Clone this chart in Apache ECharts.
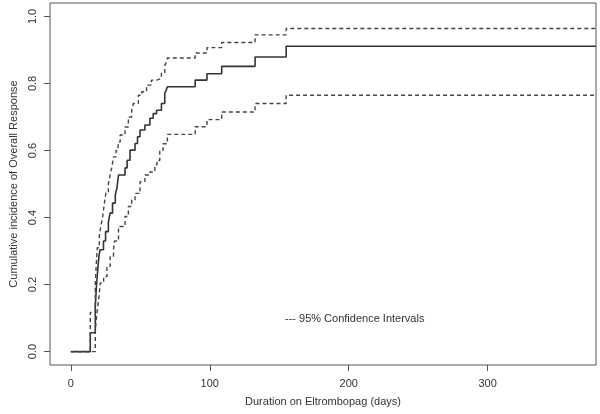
<!DOCTYPE html>
<html>
<head>
<meta charset="utf-8">
<script src="https://cdn.jsdelivr.net/npm/echarts@6/dist/echarts.min.js"></script>
<style>
html,body{margin:0;padding:0;background:#fff;}
#chart{width:600px;height:414px;}
</style>
</head>
<body>
<div id="chart"></div>
<script>
// Cumulative incidence estimate (days, value)
const estDays = [0, 14, 17.6, 18.5, 19.5, 20.2, 21, 23.5, 25, 27, 28.2, 30, 32, 33.2, 34.3, 39, 40.5, 42.6, 46.2, 48, 49.8, 53.3, 56.9, 59.3, 61.7, 65.2, 67.6, 68.6, 69.5, 89.5, 98, 108.6, 132.6, 155, 378];
const estVals = [0, 0.056, 0.135, 0.2, 0.25, 0.284, 0.304, 0.33, 0.358, 0.385, 0.413, 0.443, 0.468, 0.488, 0.527, 0.548, 0.571, 0.601, 0.621, 0.641, 0.661, 0.676, 0.696, 0.71, 0.72, 0.74, 0.77, 0.78, 0.79, 0.81, 0.829, 0.851, 0.879, 0.911, 0.911];
// Upper 95% CI
const upDays = [0, 14, 17.6, 18.3, 19, 20.5, 21.5, 22.9, 24, 25.2, 27, 28.3, 29.5, 30.7, 32.5, 34, 35.5, 39, 41.4, 43.8, 45, 48.6, 51, 54.5, 58, 61.7, 65.2, 67.6, 68.8, 69.5, 89.5, 98, 108.6, 132.6, 155, 378];
const upVals = [0, 0.117, 0.2, 0.26, 0.31, 0.343, 0.373, 0.403, 0.438, 0.473, 0.5, 0.527, 0.55, 0.581, 0.6, 0.625, 0.646, 0.67, 0.7, 0.72, 0.74, 0.765, 0.775, 0.795, 0.81, 0.815, 0.83, 0.854, 0.864, 0.876, 0.891, 0.907, 0.922, 0.945, 0.964, 0.964];
// Lower 95% CI
const loDays = [0, 17.6, 18.8, 20, 21.2, 23.6, 26, 28.3, 30.7, 31.4, 34.3, 39, 41.4, 43.8, 46.2, 49.8, 53.3, 56.9, 60.5, 62, 64, 66.4, 69.5, 89.5, 98, 108.6, 132.6, 155, 378];
const loVals = [0, 0.065, 0.115, 0.155, 0.205, 0.224, 0.254, 0.284, 0.304, 0.33, 0.373, 0.403, 0.433, 0.452, 0.472, 0.507, 0.527, 0.536, 0.557, 0.57, 0.6, 0.62, 0.648, 0.671, 0.692, 0.715, 0.74, 0.765, 0.765];

const xTicks = [0, 100, 200, 300];
const yTicks = [0, 0.2, 0.4, 0.6, 0.8, 1.0];

const zip = (a, b) => a.map((v, i) => [v, b[i]]);
const font = 'Liberation Sans, Arial, Helvetica, sans-serif';
const ink = '#333';

const chart = echarts.init(document.getElementById('chart'), null, {renderer: 'canvas'});
chart.setOption({
  animation: false,
  backgroundColor: '#fff',
  grid: {left: 46, right: 4, top: 3, bottom: 49, show: true, borderColor: '#555', borderWidth: 1, backgroundColor: 'transparent'},
  xAxis: {
    type: 'value', min: -15, max: 378,
    name: 'Duration on Eltrombopag (days)', nameLocation: 'middle', nameGap: 31,
    nameTextStyle: {fontFamily: font, fontSize: 11, color: ink},
    axisLine: {show: false, onZero: false},
    splitLine: {show: false},
    axisTick: {show: true, length: 6, customValues: xTicks, lineStyle: {color: '#555'}},
    axisLabel: {customValues: xTicks, margin: 13, fontFamily: font, fontSize: 11, color: ink}
  },
  yAxis: {
    type: 'value', min: -0.04, max: 1.04,
    name: 'Cumulative incidence of Overall Response', nameLocation: 'middle', nameGap: 31,
    nameTextStyle: {fontFamily: font, fontSize: 11, color: ink},
    axisLine: {show: false, onZero: false},
    splitLine: {show: false},
    axisTick: {show: true, length: 6, customValues: yTicks, lineStyle: {color: '#555'}},
    axisLabel: {customValues: yTicks, rotate: 90, margin: 12, fontFamily: font, fontSize: 11, color: ink,
      formatter: v => v.toFixed(1)}
  },
  series: [
    {type: 'line', step: 'end', data: zip(estDays, estVals), symbol: 'none', clip: true,
     lineStyle: {color: '#333', width: 1.6}},
    {type: 'line', step: 'end', data: zip(upDays, upVals), symbol: 'none', clip: true,
     lineStyle: {color: '#444', width: 1.4, type: [4, 3]}},
    {type: 'line', step: 'end', data: zip(loDays, loVals), symbol: 'none', clip: true,
     lineStyle: {color: '#444', width: 1.4, type: [4, 3]}}
  ],
  graphic: [
    {type: 'text', left: 285, top: 313,
     style: {text: '--- 95% Confidence Intervals', font: '11px ' + font, fill: ink}}
  ]
});
</script>
</body>
</html>
